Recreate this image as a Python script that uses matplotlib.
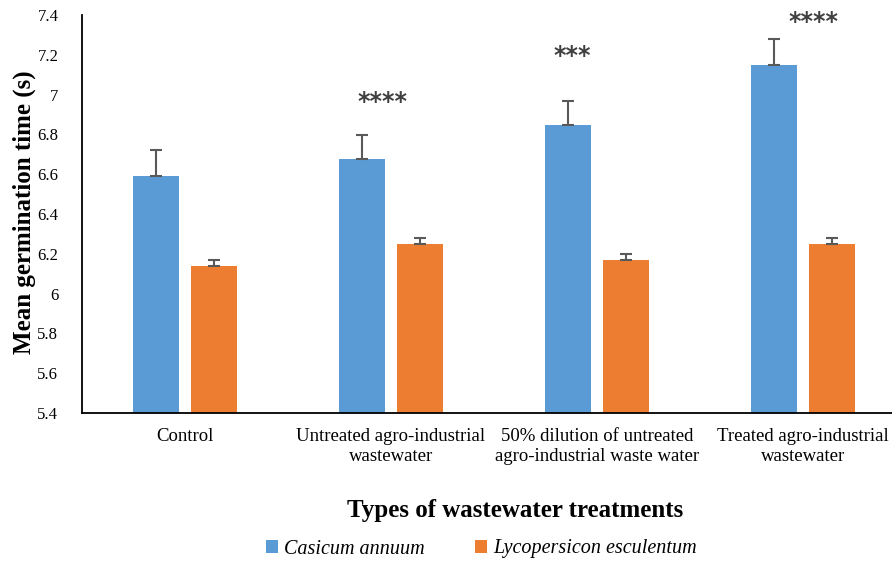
import numpy as np
import matplotlib
matplotlib.use("Agg")
import matplotlib.pyplot as plt

# valores
categorias = ["Control", "Untreated agro-industrial\nwastewater",
              "50% dilution of untreated\nagro-industrial waste water",
              "Treated agro-industrial\nwastewater"]
casicum = [6.59, 6.675, 6.845, 7.15]
casicum_err = [0.13, 0.12, 0.125, 0.13]
lyco = [6.14, 6.25, 6.17, 6.25]
lyco_err = [0.03, 0.03, 0.03, 0.03]
estrellas = ["", "****", "***", "****"]
estrellas_y = [0, 6.965, 7.195, 7.365]
estrellas_dx = [0, -0.04, -0.12, 0.05]

plt.rcParams['font.family'] = ['Liberation Serif', 'DejaVu Serif']

fig = plt.figure(figsize=(8.92, 5.63), dpi=100)
ax = fig.add_axes([82 / 892, 150 / 563, 824 / 892, 398 / 563])

x = np.arange(len(categorias))
ancho = 0.223
b1 = ax.bar(x - 0.142, casicum, ancho, color="#5B9BD5", label="Casicum annuum",
            yerr=[np.zeros(4), casicum_err], error_kw=dict(ecolor="#595959", elinewidth=1.5,
                                                         capsize=4, capthick=1.5))
b2 = ax.bar(x + 0.142, lyco, ancho, color="#ED7D31", label="Lycopersicon esculentum",
            yerr=[np.zeros(4), lyco_err], error_kw=dict(ecolor="#595959", elinewidth=1.5,
                                                      capsize=4, capthick=1.5))

# asteriscos de significancia
for i, s in enumerate(estrellas):
    if s:
        ax.text(x[i] + estrellas_dx[i], estrellas_y[i], s, ha="center", va="center",
                fontsize=17, color="#404040", family="DejaVu Sans", fontweight="bold",
                clip_on=False)

ax.set_xlim(-0.5, 3.5)
ax.set_ylim(5.4, 7.4)
ax.set_yticks(np.arange(5.4, 7.41, 0.2))
ax.set_yticklabels(["5.4", "5.6", "5.8", "6", "6.2", "6.4", "6.6", "6.8", "7", "7.2", "7.4"])
ax.set_xticks(x)
ax.set_xticklabels(categorias, fontsize=13.5, linespacing=1.2)
ax.tick_params(axis="y", length=0, labelsize=12, pad=17)
ax.tick_params(axis="x", length=0, pad=11)
ax.spines["top"].set_visible(False)
ax.spines["right"].set_visible(False)
ax.spines["left"].set_linewidth(1.3)
ax.spines["bottom"].set_linewidth(1.3)

fig.text(24 / 892, 1 - 212 / 563, "Mean germination time (s)", rotation=90,
         ha="center", va="center", fontsize=18, fontweight="bold")
fig.text(515 / 892, 1 - 510 / 563, "Types of wastewater treatments",
         ha="center", va="center", fontsize=18, fontweight="bold")

leg = fig.legend(handles=[b1, b2], loc="center", bbox_to_anchor=(481 / 892, 1 - 549 / 563),
                 ncol=2, frameon=False, prop=dict(size=14.5, style="italic"),
                 handlelength=0.6, handleheight=0.6, handletextpad=0.3, columnspacing=2.5)

fig.savefig("out.png", dpi=100)
